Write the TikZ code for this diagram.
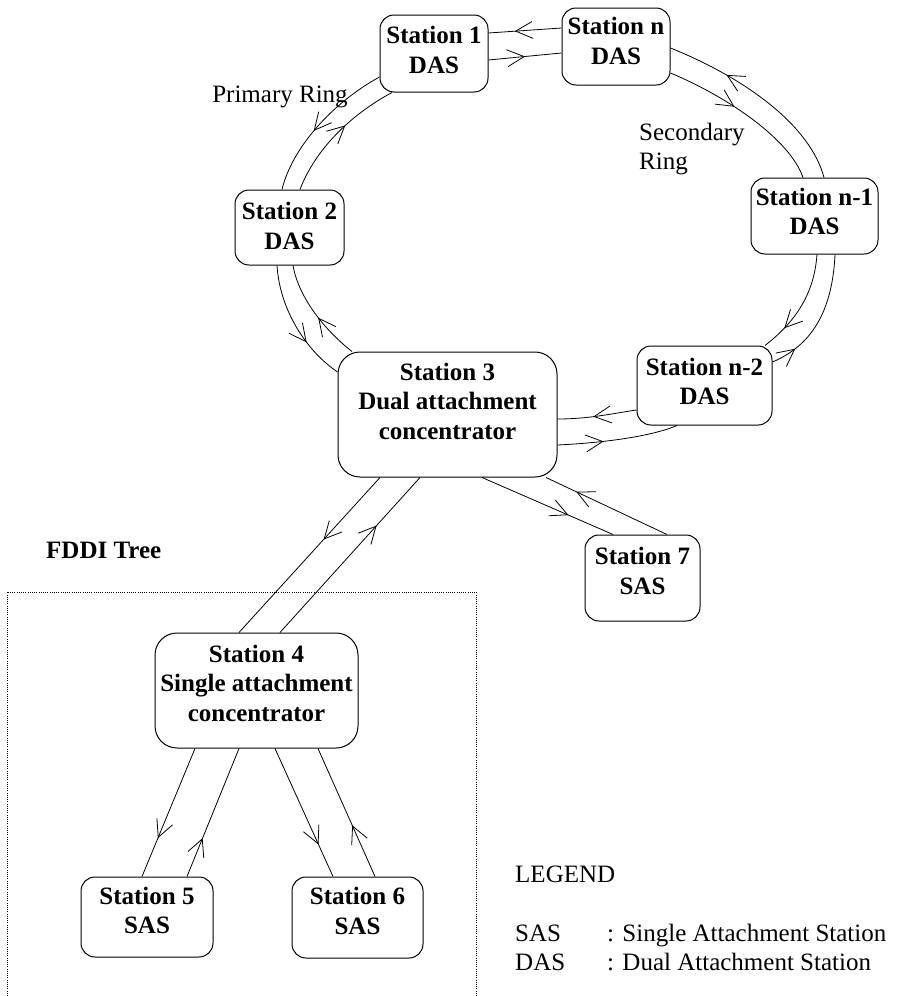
\documentclass[tikz,border=0pt]{standalone}
\usepackage{fontspec}
\setmainfont{Liberation Serif}
\usetikzlibrary{arrows.meta,decorations.markings,calc}
\begin{document}
\begin{tikzpicture}[x=1pt,y=-1pt,
  box/.style={draw, line width=1pt, rounded corners=14pt, inner sep=0pt},
  bigbox/.style={box, rounded corners=22pt},
  lbl/.style={font=\fontsize{25}{29.5}\selectfont\bfseries, align=center, inner sep=0pt},
  plain/.style={font=\fontsize{25}{29.5}\selectfont, inner sep=0pt, align=left},
  link/.style={line width=0.8pt},
  flow/.style={link, decoration={markings, mark=at position #1 with {\arrow{Straight Barb[length=17pt,width=17pt]}}}, postaction={decorate}}
]
\useasboundingbox (0,0) rectangle (897,996);

% boxes
\node[box, minimum width=108pt, minimum height=77pt] (s1) at (434,53.5) {};
\node[box, minimum width=108pt, minimum height=77pt] (sn) at (616,46.5) {};
\node[box, minimum width=109pt, minimum height=75pt] (s2) at (289.5,227.5) {};
\node[box, minimum width=127pt, minimum height=76pt] (sn1) at (814.5,216) {};
\node[box, minimum width=135pt, minimum height=79pt] (sn2) at (704.5,385.5) {};
\node[bigbox, minimum width=219pt, minimum height=125pt] (s3) at (447.5,414.5) {};
\node[box, minimum width=115pt, minimum height=86pt] (s7) at (642.5,578) {};
\node[bigbox, minimum width=203pt, minimum height=115pt] (s4) at (256.5,690.5) {};
\node[box, minimum width=132pt, minimum height=80pt] (s5) at (147,917) {};
\node[box, minimum width=131pt, minimum height=81pt] (s6) at (357.5,917.5) {};

% box texts
\node[lbl] (s1t) at (434,50) {Station 1\\DAS};
\node[lbl] (snt) at (616,41) {Station n\\DAS};
\node[lbl] (s2t) at (289.5,226) {Station 2\\DAS};
\node[lbl] (sn1t) at (814.5,211.5) {Station n-1\\DAS};
\node[lbl] (sn2t) at (704.5,381.5) {Station n-2\\DAS};
\node[lbl] (s3t) at (447.5,401) {Station 3\\Dual attachment\\concentrator};
\node[lbl] (s7t) at (642.5,571) {Station 7\\SAS};
\node[lbl] (s4t) at (256.5,683) {Station 4\\Single attachment\\concentrator};
\node[lbl] (s5t) at (147,910.5) {Station 5\\SAS};
\node[lbl] (s6t) at (357.5,911) {Station 6\\SAS};

% ring connectors
\draw[flow=0.64] (sn.west |- 0,28) -- (s1.east |- 0,33);
\draw[flow=0.5] (s1.east |- 0,60) -- (sn.west |- 0,53);
\draw[flow=0.7] (sn1.north -| 824,0) .. controls (810,125) and (745,78) .. (sn.east |- 0,48);
\draw[flow=0.42] (sn.east |- 0,73) .. controls (730,98) and (790,140) .. (sn1.north -| 803,0);
\draw[flow=0.76] (sn1.south -| 817,0) .. controls (814,295) and (795,322) .. (sn2.north -| 765,0);
\draw[flow=0.2] (sn2.east |- 0,362) .. controls (805,348) and (832,320) .. (sn1.south -| 835,0);
\draw[flow=0.55] (sn2.west |- 0,410) .. controls (615,413) and (590,419) .. (s3.east |- 0,419);
\draw[flow=0.38] (s3.east |- 0,445) .. controls (600,443) and (650,437) .. (sn2.south -| 677,0);
\draw[flow=0.66] (s2.south -| 277,0) .. controls (280,312) and (308,352) .. (s3.west |- 0,372);
\draw[flow=0.45] (s3.north -| 352,0) .. controls (322,328) and (298,295) .. (s2.south -| 293,0);
\draw[flow=0.56] (s1.west |- 0,77) .. controls (332,103) and (292,148) .. (s2.north -| 282,0);
\draw[flow=0.58] (s2.north -| 300,0) .. controls (315,150) and (350,115) .. (s1.south -| 392,0);

% tree connectors
\draw[flow=0.4] (s3.south -| 380,0) -- (s4.north -| 239,0);
\draw[flow=0.69] (s4.north -| 280,0) -- (s3.south -| 420,0);
\draw[flow=0.66] (s3.south -| 482,0) -- (s7.north -| 613,0);
\draw[flow=0.75] (s7.north -| 667,0) -- (s3.south -| 546,0);
\draw[flow=0.7] (s4.south -| 195,0) -- (s5.north -| 142,0);
\draw[flow=0.3] (s5.north -| 187,0) -- (s4.south -| 239,0);
\draw[flow=0.75] (s4.south -| 275,0) -- (s6.north -| 333,0);
\draw[flow=0.4] (s6.north -| 375,0) -- (s4.south -| 318,0);

% dotted tree frame
\draw[line width=0.7pt, dash pattern=on 1pt off 1.2pt] (7,996) -- (7,592) -- (476,592) -- (476,996);

% labels
\node[plain, anchor=center] (prim) at (280,97) {Primary Ring};
\node[plain, anchor=west] (sec) at (639,149) {Secondary\\Ring};
\node[lbl, anchor=west] (fddi) at (46,550) {FDDI Tree};
\node[plain, anchor=base west] (leg) at (515,882) {LEGEND};
\node[plain, anchor=base west] (legs) at (515,941) {SAS};
\node[plain, anchor=base west] (legsd) at (607,941) {: Single Attachment Station};
\node[plain, anchor=base west] (legd) at (515,970) {DAS};
\node[plain, anchor=base west] (legdd) at (607,970) {: Dual Attachment Station};
\end{tikzpicture}
\end{document}
